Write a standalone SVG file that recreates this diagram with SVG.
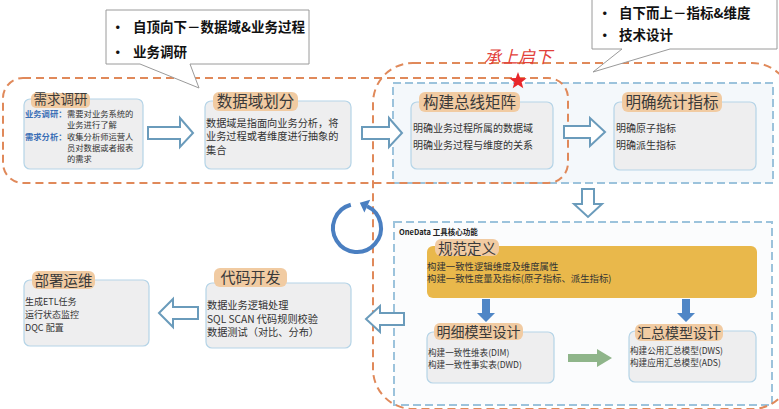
<svg xmlns="http://www.w3.org/2000/svg" width="779" height="409" viewBox="0 0 779 409">
<style>
text{font-family:"Noto Sans CJK SC","Noto Sans",sans-serif}
.odash{fill:none;stroke:#e0895a;stroke-width:2;stroke-dasharray:8 5}
.bdash{stroke:#9cc3dc;stroke-width:2;stroke-dasharray:8 4}
.callout{fill:#fff;stroke:#9a9a9a;stroke-width:1}
.ct{font-size:13.5px;font-weight:bold;fill:#111}
.box{fill:#eeeeef;stroke:#b5d4e7;stroke-width:1.2}
.tag{fill:#f1cba2}
.title{font-size:15px;fill:#3a3a3a;text-anchor:middle}
.body{font-size:10px;fill:#333}
.lbl{fill:#3b6fb6;font-weight:bold}
.hollow{fill:#fff;stroke:#6a9bbb;stroke-width:2;stroke-linejoin:miter}
.solid{fill:#4f86c6}
</style>
<rect width="779" height="409" fill="#fff"/>
<g id="regions">
<rect x="393" y="83" width="380" height="100" fill="#f4f8fb" class="bdash"/>
<rect x="394" y="222" width="378" height="183" fill="#fbfcfd" class="bdash"/>
<rect x="3" y="78" width="565" height="105" rx="20" class="odash"/>
<rect x="373" y="63" width="419" height="346" rx="40" class="odash"/>
<text x="399" y="235" style="font-size:7.5px;font-weight:bold;fill:#222">OneData 工具核心功能</text>
</g>
<g id="callout-top-down">
<path class="callout" d="M106,10 H309 V64 H190 L199,88 L140,64 H106 Z"/>
<text x="111" y="32" class="ct">•</text>
<text x="133" y="32" class="ct">自顶向下－数据域&amp;业务过程</text>
<text x="111" y="57" class="ct">•</text>
<text x="133" y="57" class="ct">业务调研</text>
</g>
<g id="callout-bottom-up">
<path class="callout" d="M592,-1 H777 V49 H670 L593,72 L622,49 H592 Z"/>
<text x="598" y="18" class="ct">•</text>
<text x="619" y="18" class="ct">自下而上－指标&amp;维度</text>
<text x="598" y="40" class="ct">•</text>
<text x="619" y="40" class="ct">技术设计</text>
</g>
<g id="slogan">
<text x="484" y="63" style="font-size:17px;font-style:italic;fill:#e2403a">承上启下</text>
<polygon fill="#e8262a" points="518,72 520.2,77.9 526.6,78.2 521.6,82.2 523.3,88.3 518,84.8 512.7,88.3 514.4,82.2 509.4,78.2 515.8,77.9"/>
</g>
<g id="node-xuqiu">
<rect class="box" x="24" y="99" width="119" height="70" rx="6"/>
<rect class="tag" x="31" y="93" width="59" height="15" rx="5"/>
<text class="title" x="60.5" y="104" style="font-size:13.5px">需求调研</text>
<text class="body" style="font-size:8.3px"><tspan x="25" y="117" class="lbl">业务调研：</tspan><tspan x="67">需要对业务系统的</tspan><tspan x="67" y="128">业务进行了解</tspan><tspan x="25" y="139.5" class="lbl">需求分析：</tspan><tspan x="67">收集分析师运营人</tspan><tspan x="67" y="150.5">员对数据或者报表</tspan><tspan x="67" y="161.5">的需求</tspan></text>
</g>
<g id="node-shujuyu">
<rect class="box" x="205" y="101" width="146" height="68" rx="6"/>
<rect class="tag" x="213" y="92" width="85" height="19" rx="6"/>
<text class="title" x="255.5" y="107" style="font-size:15.5px">数据域划分</text>
<text class="body" style="font-size:10.2px"><tspan x="206" y="126.5">数据域是指面向业务分析，将</tspan><tspan x="206" y="140">业务过程或者维度进行抽象的</tspan><tspan x="206" y="153.5">集合</tspan></text>
</g>
<g id="node-zongxian">
<rect class="box" x="411" y="102" width="142" height="67" rx="6"/>
<rect class="tag" x="419" y="92" width="101" height="20" rx="6"/>
<text class="title" x="469.5" y="108" style="font-size:15.5px">构建总线矩阵</text>
<text class="body"><tspan x="413" y="132">明确业务过程所属的数据域</tspan><tspan x="413" y="149">明确业务过程与维度的关系</tspan></text>
</g>
<g id="node-zhibiao">
<rect class="box" x="614" y="102" width="142" height="68" rx="6"/>
<rect class="tag" x="622" y="92" width="100" height="20" rx="6"/>
<text class="title" x="672" y="108" style="font-size:15.5px">明确统计指标</text>
<text class="body"><tspan x="616" y="132">明确原子指标</tspan><tspan x="616" y="149">明确派生指标</tspan></text>
</g>
<g id="node-guifan">
<rect x="427" y="246" width="330" height="52" rx="6" fill="#e9b84b"/>
<rect class="tag" x="435" y="239" width="64" height="17" rx="6"/>
<text class="title" x="467" y="254" style="font-size:14.5px">规范定义</text>
<text class="body" style="font-size:9.4px"><tspan x="427" y="269.5">构建一致性逻辑维度及维度属性</tspan><tspan x="427" y="282">构建一致性度量及指标(原子指标、派生指标)</tspan></text>
</g>
<g id="node-mingxi">
<rect class="box" x="427" y="332" width="127" height="51" rx="6"/>
<rect class="tag" x="434" y="323" width="89" height="17" rx="6"/>
<text class="title" x="478.5" y="337" style="font-size:14px">明细模型设计</text>
<text class="body" style="font-size:8.6px"><tspan x="428" y="355.5">构建一致性维表(DIM)</tspan><tspan x="428" y="367.5">构建一致性事实表(DWD)</tspan></text>
</g>
<g id="node-huizong">
<rect class="box" x="629" y="331" width="127" height="51" rx="6"/>
<rect class="tag" x="635" y="324" width="88" height="17" rx="6"/>
<text class="title" x="679" y="338" style="font-size:14px">汇总模型设计</text>
<text class="body" style="font-size:8.6px"><tspan x="630" y="353.5">构建公用汇总模型(DWS)</tspan><tspan x="630" y="365.5">构建应用汇总模型(ADS)</tspan></text>
</g>
<g id="node-daima">
<rect class="box" x="206" y="283" width="145" height="65" rx="6"/>
<rect class="tag" x="214" y="268" width="73" height="19" rx="6"/>
<text class="title" x="250.5" y="283">代码开发</text>
<text class="body" style="font-size:10.2px"><tspan x="207" y="309">数据业务逻辑处理</tspan><tspan x="207" y="322.5">SQL SCAN 代码规则校验</tspan><tspan x="207" y="336">数据测试（对比、分布）</tspan></text>
</g>
<g id="node-bushu">
<rect class="box" x="24" y="280" width="125" height="66" rx="6"/>
<rect class="tag" x="32" y="271" width="63" height="18" rx="6"/>
<text class="title" x="63.5" y="285.5" style="font-size:14.5px">部署运维</text>
<text class="body" style="font-size:9px"><tspan x="25" y="305">生成ETL任务</tspan><tspan x="25" y="318">运行状态监控</tspan><tspan x="25" y="331">DQC 配置</tspan></text>
</g>
<g id="connectors">
<polygon class="hollow" points="148,127 180,127 180,118 193,133 180,147 180,139 148,139"/>
<polygon class="hollow" points="362,127 389,127 389,118 402,133 389,147 389,139 362,139"/>
<polygon class="hollow" points="564,126 590,126 590,118 605,132 590,146 590,138 564,138"/>
<polygon class="hollow" points="582,189 594,189 594,204 602,204 588,217 574,204 582,204"/>
<polygon class="hollow" points="404,313 380,313 380,306 366,319 380,332 380,325 404,325"/>
<polygon class="hollow" points="198,307 173,307 173,299 159,313 173,327 173,319 198,319"/>
<polygon class="solid" points="482,299 490,299 490,313 495,313 486,322 477,313 482,313"/>
<polygon class="solid" points="682,299 690,299 690,313 695,313 686,322 677,313 682,313"/>
<polygon fill="#8fb58a" points="568,354 597,354 597,349 612,358 597,367 597,362 568,362"/>
</g>
<g id="cycle">
<path d="M350.8,204.8 A24,24 0 1 0 367.1,206.2" fill="none" stroke="#4a7fc1" stroke-width="4"/>
<polygon fill="#4a7fc1" points="359.8,202.8 370.2,199.8 364.4,212.4"/>
</g>
</svg>
